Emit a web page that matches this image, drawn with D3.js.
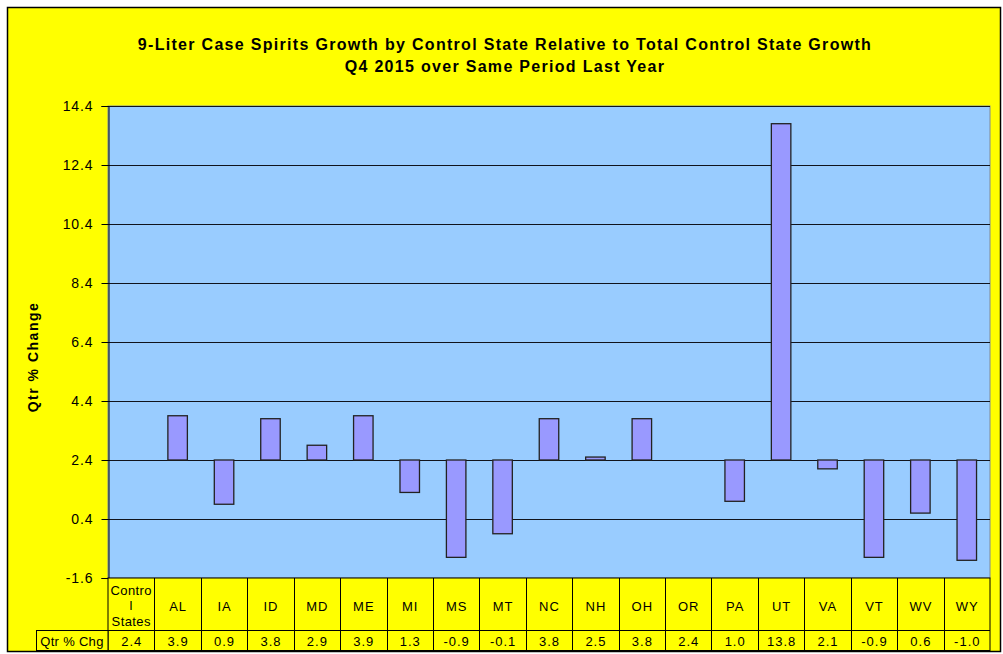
<!DOCTYPE html>
<html>
<head>
<meta charset="utf-8">
<script src="https://cdn.jsdelivr.net/npm/d3@7"></script>
<style>
  body { margin: 0; background: #fff; }
  text { font-family: Arial, "Liberation Sans", sans-serif; fill: #000; }
</style>
</head>
<body>
<svg id="chart" width="1003" height="654"></svg>
<script>
// data
const states = ["Control States", "AL", "IA", "ID", "MD", "ME", "MI", "MS", "MT", "NC", "NH", "OH", "OR", "PA", "UT", "VA", "VT", "WV", "WY"]
const qtrChg = [2.4, 3.9, 0.9, 3.8, 2.9, 3.9, 1.3, -0.9, -0.1, 3.8, 2.5, 3.8, 2.4, 1.0, 13.8, 2.1, -0.9, 0.6, -1.0]
const yTicks = [-1.6, 0.4, 2.4, 4.4, 6.4, 8.4, 10.4, 12.4, 14.4]
const baseline = 2.4 // total control state growth
const titleLines = ["9-Liter Case Spirits Growth by Control State Relative to Total Control State Growth", "Q4 2015 over Same Period Last Year"]

const data = states.map((s, i) => ({ state: s, value: qtrChg[i] }))

const margin = { top: 106, bottom: 76, left: 108, right: 13 }
const width = 1003, height = 654
const fmt = (v) => v.toFixed(1) // plain hyphen minus like the original

const svg = d3.select("#chart")

// outer frame
svg.append("rect")
	.attr("x", 7.5).attr("y", 7.5)
	.attr("width", 993).attr("height", 644)
	.attr("fill", "#ffff00")
	.attr("stroke", "#000")
	.attr("stroke-width", 1.5)

// scales
const scale = {
	x: d3.scaleBand()
		.domain(states)
		.range([margin.left, width - margin.right])
		.paddingInner(0.58)
		.paddingOuter(0.29),
	y: d3.scaleLinear()
		.domain([-1.6, 14.4])
		.range([height - margin.bottom, margin.top]),
}
const cols = d3.scaleBand().domain(states).range([margin.left, width - margin.right])

// plot area
svg.append("rect")
	.attr("x", margin.left).attr("y", margin.top)
	.attr("width", width - margin.right - margin.left)
	.attr("height", scale.y(-1.6) - margin.top)
	.attr("fill", "#99ccff")
	.attr("stroke", "#7f8a99")

// grid
svg.append("g")
	.selectAll("line")
	.data(yTicks.slice(1))
	.join("line")
	.attr("x1", margin.left).attr("x2", width - margin.right)
	.attr("y1", (d) => Math.round(scale.y(d)) + 0.5)
	.attr("y2", (d) => Math.round(scale.y(d)) + 0.5)
	.attr("stroke", "#10131c")
	.attr("stroke-width", 1)

// y axis
const yAxis = svg.append("g")
	.attr("transform", `translate(${margin.left + 0.5}, 0)`)
	.call(d3.axisLeft(scale.y).tickValues(yTicks).tickFormat(fmt).tickSize(7).tickPadding(8))
yAxis.select(".domain").attr("stroke", "#000")
yAxis.selectAll(".tick line").attr("stroke", "#000")
yAxis.selectAll("text")
	.style("font-size", "14px")
	.style("letter-spacing", "0.9px")
	.attr("fill", "#000")

// bars relative to total control state growth
svg.append("g")
	.selectAll("rect")
	.data(data)
	.join("rect")
	.attr("x", (d) => scale.x(d.state))
	.attr("y", (d) => scale.y(Math.max(d.value, baseline)))
	.attr("width", scale.x.bandwidth())
	.attr("height", (d) => Math.abs(scale.y(d.value) - scale.y(baseline)))
	.attr("fill", "#9999ff")
	.attr("stroke", "#222")
	.attr("stroke-width", 1.3)

// title
svg.append("text")
	.attr("x", 505).attr("y", 50)
	.attr("text-anchor", "middle")
	.style("font-size", "16px")
	.style("font-weight", "bold")
	.style("letter-spacing", "1.3px")
	.selectAll("tspan")
	.data(titleLines)
	.join("tspan")
	.attr("x", 505)
	.attr("dy", (d, i) => (i ? 22 : 0))
	.text((d) => d)

// y label
svg.append("text")
	.attr("transform", "translate(38, 357) rotate(-90)")
	.attr("text-anchor", "middle")
	.style("font-size", "14px")
	.style("font-weight", "bold")
	.style("letter-spacing", "1.5px")
	.text("Qtr % Change")

// data table
const tTop = scale.y(-1.6), tMid = 630.5, tBot = 650.5
const table = svg.append("g").attr("fill", "none")
table.append("rect")
	.attr("x", margin.left).attr("y", tTop)
	.attr("width", width - margin.right - margin.left)
	.attr("height", tBot - tTop)
	.attr("fill", "#ffff00")
	.attr("stroke", "#000")
table.append("rect")
	.attr("x", 36.5).attr("y", tMid)
	.attr("width", margin.left - 36.5)
	.attr("height", tBot - tMid)
	.attr("fill", "#ffff00")
	.attr("stroke", "#000")
table.append("line")
	.attr("x1", margin.left).attr("x2", width - margin.right)
	.attr("y1", tMid).attr("y2", tMid)
	.attr("stroke", "#000")
table.selectAll("line.sep")
	.data(states.slice(1))
	.join("line")
	.attr("class", "sep")
	.attr("x1", (d) => Math.round(cols(d)) + 0.5)
	.attr("x2", (d) => Math.round(cols(d)) + 0.5)
	.attr("y1", tTop).attr("y2", tBot)
	.attr("stroke", "#000")

const header = svg.append("g")
	.selectAll("text")
	.data(states)
	.join("text")
	.attr("text-anchor", "middle")
	.style("font-size", "13px")
	.style("letter-spacing", "1px")
	.attr("x", (d) => cols(d) + cols.bandwidth() / 2 + 0.5)
	.attr("y", 610.5)
header.filter((d) => d !== "Control States").text((d) => d)
header.filter((d) => d === "Control States")
	.style("letter-spacing", "0.4px")
	.selectAll("tspan")
	.data(["Contro", "l", "States"])
	.join("tspan")
	.attr("x", cols("Control States") + cols.bandwidth() / 2)
	.attr("y", (d, i) => 595 + i * 15.3)
	.text((d) => d)

svg.append("g")
	.selectAll("text")
	.data(data)
	.join("text")
	.attr("text-anchor", "middle")
	.style("font-size", "13px")
	.style("letter-spacing", "1px")
	.attr("x", (d) => cols(d.state) + cols.bandwidth() / 2 + 0.5)
	.attr("y", 645.5)
	.text((d) => fmt(d.value))

svg.append("text")
	.attr("x", 72).attr("y", 645.5)
	.attr("text-anchor", "middle")
	.style("font-size", "13px")
	.style("letter-spacing", "0.3px")
	.text("Qtr % Chg")
</script>
</body>
</html>
